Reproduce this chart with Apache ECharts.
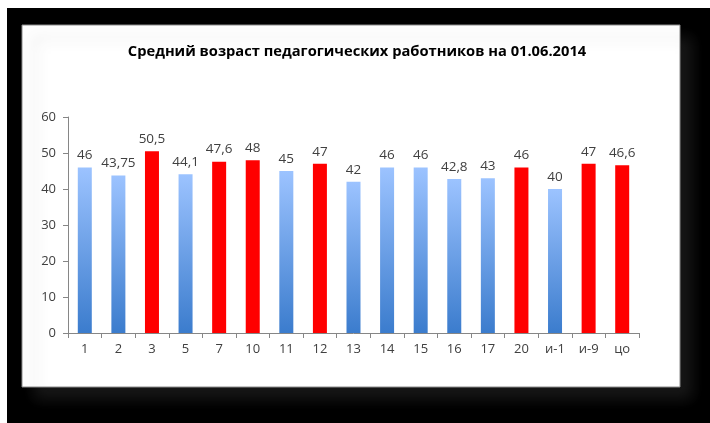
<!DOCTYPE html>
<html>
<head>
<meta charset="utf-8">
<script src="https://cdn.jsdelivr.net/npm/echarts@6/dist/echarts.min.js"></script>
<style>
  html, body { margin: 0; padding: 0; background: #fff; }
  #main { width: 710px; height: 423px; }
</style>
</head>
<body>
<div id="main"></div>
<script>
// данные
var categories = ['1', '2', '3', '5', '7', '10', '11', '12', '13', '14', '15', '16', '17', '20', 'и-1', 'и-9', 'цо'];
var values = [46, 43.75, 50.5, 44.1, 47.6, 48, 45, 47, 42, 46, 46, 42.8, 43, 46, 40, 47, 46.6];
// красные столбики
var redCats = ['3', '7', '10', '12', '20', 'и-9', 'цо'];

var titleText = 'Средний возраст педагогических работников на 01.06.2014';
var fontMain = 'Open Sans, Liberation Sans, sans-serif';

var blueFill = new echarts.graphic.LinearGradient(0, 0, 0, 1, [
    {offset: 0, color: '#9CC3FF'},
    {offset: 1, color: '#3B7CCD'}
]);

var barData = values.map(function (v, i) {
    var isRed = redCats.indexOf(categories[i]) !== -1;
    return {
        value: v,
        itemStyle: {color: isRed ? '#FF0000' : blueFill}
    };
});

var myChart = echarts.init(document.getElementById('main'), null, {renderer: 'canvas'});
var option = {
    backgroundColor: '#ffffff',
    animation: false,
    graphic: [
        {
            type: 'rect', z: -10, silent: true,
            shape: {x: 7, y: 8, width: 703, height: 415},
            style: {fill: '#000000'}
        },
        {
            type: 'rect', z: -9, silent: true,
            shape: {x: 22, y: 25, width: 658, height: 362},
            style: {
                fill: '#ffffff', stroke: '#8a8a8a', lineWidth: 1,
                shadowColor: 'rgba(60,60,60,0.4)', shadowBlur: 14,
                shadowOffsetX: 12, shadowOffsetY: 12
            }
        }
    ],
    title: {
        text: titleText,
        left: 352,
        textAlign: 'center',
        top: 39,
        textStyle: {
            fontFamily: fontMain,
            fontSize: 14.7,
            fontWeight: 'bold',
            color: '#000000'
        }
    },
    grid: {left: 68, right: 71, top: 117, bottom: 90, containLabel: false},
    xAxis: {
        type: 'category',
        data: categories,
        axisLine: {lineStyle: {color: '#868686', width: 1}},
        axisTick: {show: true, length: 5, alignWithLabel: false, lineStyle: {color: '#868686'}},
        axisLabel: {color: '#404040', fontFamily: fontMain, fontSize: 13, margin: 10, interval: 0}
    },
    yAxis: {
        type: 'value',
        min: 0,
        max: 60,
        interval: 10,
        splitLine: {show: false},
        axisLine: {show: true, lineStyle: {color: '#868686', width: 1}},
        axisTick: {show: true, length: 5, lineStyle: {color: '#868686'}},
        axisLabel: {color: '#404040', fontFamily: fontMain, fontSize: 13, margin: 12}
    },
    series: [{
        type: 'bar',
        data: barData,
        barWidth: 14,
        label: {
            show: true,
            position: 'top',
            distance: 5,
            color: '#404040',
            fontFamily: fontMain,
            fontSize: 13.5,
            formatter: function (p) {
                return String(p.value).replace('.', ',');
            }
        }
    }]
};
myChart.setOption(option);
</script>
</body>
</html>
